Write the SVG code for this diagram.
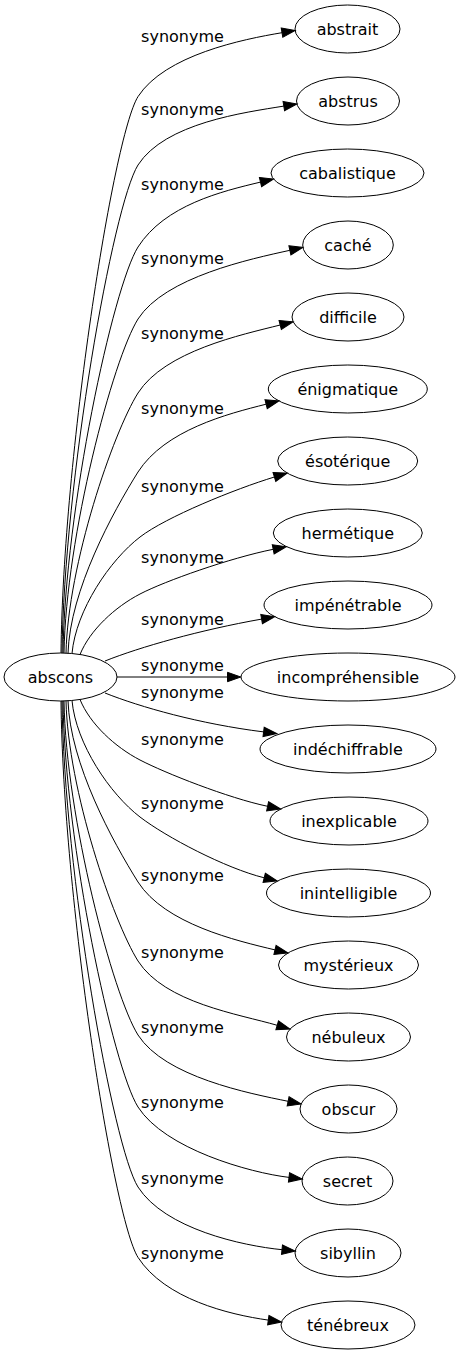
<svg xmlns="http://www.w3.org/2000/svg" width="461" height="1355" viewBox="0 0 461 1355">
<style>
.node ellipse{fill:none;stroke:#000;stroke-width:1}
text{font-family:"DejaVu Sans","Liberation Sans",sans-serif;font-size:16px;fill:#000}
.node text{text-anchor:middle}
.edges path{fill:none;stroke:#000;stroke-width:1;marker-end:url(#arr)}
.lbl text{text-anchor:middle}
</style>
<defs>
<marker id="arr" markerUnits="userSpaceOnUse" markerWidth="16" markerHeight="12" refX="0.5" refY="6" orient="auto" overflow="visible">
<path d="M0.5,1.3 L13.8,6 L0.5,10.7 Z" fill="#000" stroke="#000" stroke-width="1"/>
</marker>
</defs>
<rect width="461" height="1355" fill="#fff"/>
<g class="edges" id="edges">
<path d="M61,653 C63,458 113,136.6 138,96.6 C165,55 242.6,39.3 282,32.7"/>
<path d="M62,653 C64,482 113,205 138,165 C165,123 244.3,112.5 283.8,106.1"/>
<path d="M63,653 C65,510 113,287 138,247 C165,205 221.6,191.4 260.5,182.1"/>
<path d="M64,653 C66,536 113,359 138,319 C165,277 250.8,258.9 289.9,250.3"/>
<path d="M66,653.2 C68,564 113,433 138,393 C165,351 241.4,334.8 280.2,325"/>
<path d="M68,653.5 C70,590 113,512 138,472 C165,430 227.3,413.9 266.1,404.2"/>
<path d="M72,653.5 C76,610 110,560 140,537 C166,517 235,489 274.4,477"/>
<path d="M80,654.5 C90,630 115,607 140,594 C165,581 230,558 273.2,549.3"/>
<path d="M105,661 C140,647 200,630 261.6,619.1"/>
<path d="M117,677 L227.5,677"/>
<path d="M105,693 C140,707 200,724 263.6,731.9"/>
<path d="M80,699.5 C90,724 115,747 140,760 C165,773 228.4,798.1 267.6,806.3"/>
<path d="M72,700.5 C76,744 110,794 140,817 C166,837 225.4,868.2 264.2,877.8"/>
<path d="M68,700.5 C70,764 113,842 138,882 C165,924 236.1,940.6 275,949.9"/>
<path d="M66,700.8 C68,790 113,921 138,961 C165,1003 238.8,1014.1 277.2,1025.3"/>
<path d="M64,701 C66,818 113,995 138,1035 C165,1077 248.9,1093.3 288.1,1101.3"/>
<path d="M63,701 C65,844 113,1067 138,1107 C165,1149 249.3,1172.6 289,1177.4"/>
<path d="M62,701 C64,872 113,1147 138,1187 C165,1229 242.2,1245.7 282,1249.7"/>
<path d="M61,701 C63,896 113,1217.4 138,1257.4 C165,1299 228.7,1314.5 268.3,1320.1"/>
</g>
<g class="lbl" id="edge-labels">
<text x="182.5" y="41.6">synonyme</text>
<text x="182.5" y="115">synonyme</text>
<text x="182.5" y="190">synonyme</text>
<text x="182.5" y="264">synonyme</text>
<text x="182.5" y="338.5">synonyme</text>
<text x="182.5" y="414">synonyme</text>
<text x="182.5" y="492">synonyme</text>
<text x="182.5" y="562.5">synonyme</text>
<text x="182.5" y="625">synonyme</text>
<text x="182.5" y="671">synonyme</text>
<text x="182.5" y="698">synonyme</text>
<text x="182.5" y="745">synonyme</text>
<text x="182.5" y="809">synonyme</text>
<text x="182.5" y="881">synonyme</text>
<text x="182.5" y="957.5">synonyme</text>
<text x="182.5" y="1033">synonyme</text>
<text x="182.5" y="1108">synonyme</text>
<text x="182.5" y="1184">synonyme</text>
<text x="182.5" y="1258.5">synonyme</text>
</g>
<g class="node" id="n-abscons"><ellipse cx="60.5" cy="677" rx="56.5" ry="24"/><text x="60.5" y="682.5">abscons</text></g>
<g class="node" id="n-abstrait"><ellipse cx="347.5" cy="29" rx="52.5" ry="24"/><text x="347.5" y="34.5">abstrait</text></g>
<g class="node" id="n-abstrus"><ellipse cx="348" cy="101" rx="51.5" ry="24"/><text x="348" y="106.5">abstrus</text></g>
<g class="node" id="n-cabalistique"><ellipse cx="347.5" cy="173" rx="76.5" ry="24"/><text x="347.5" y="178.5">cabalistique</text></g>
<g class="node" id="n-cache"><ellipse cx="348" cy="245" rx="45.3" ry="24"/><text x="348" y="250.5">caché</text></g>
<g class="node" id="n-difficile"><ellipse cx="348" cy="317" rx="56" ry="24"/><text x="348" y="322.5">difficile</text></g>
<g class="node" id="n-enigmatique"><ellipse cx="347.8" cy="389" rx="79.5" ry="24"/><text x="347.8" y="394.5">énigmatique</text></g>
<g class="node" id="n-esoterique"><ellipse cx="347.7" cy="461" rx="70" ry="24"/><text x="347.7" y="466.5">ésotérique</text></g>
<g class="node" id="n-hermetique"><ellipse cx="347.8" cy="533" rx="74.5" ry="24"/><text x="347.8" y="538.5">hermétique</text></g>
<g class="node" id="n-impenetrable"><ellipse cx="348" cy="605" rx="84" ry="24"/><text x="348" y="610.5">impénétrable</text></g>
<g class="node" id="n-incomprehensible"><ellipse cx="348" cy="677" rx="107" ry="24"/><text x="348" y="682.5">incompréhensible</text></g>
<g class="node" id="n-indechiffrable"><ellipse cx="348" cy="749" rx="88" ry="24"/><text x="348" y="754.5">indéchiffrable</text></g>
<g class="node" id="n-inexplicable"><ellipse cx="349" cy="821" rx="79" ry="24"/><text x="349" y="826.5">inexplicable</text></g>
<g class="node" id="n-inintelligible"><ellipse cx="348.5" cy="893" rx="82" ry="24"/><text x="348.5" y="898.5">inintelligible</text></g>
<g class="node" id="n-mysterieux"><ellipse cx="348.5" cy="965" rx="70" ry="24"/><text x="348.5" y="970.5">mystérieux</text></g>
<g class="node" id="n-nebuleux"><ellipse cx="348.5" cy="1037" rx="62" ry="24"/><text x="348.5" y="1042.5">nébuleux</text></g>
<g class="node" id="n-obscur"><ellipse cx="348.5" cy="1109" rx="48.5" ry="24"/><text x="348.5" y="1114.5">obscur</text></g>
<g class="node" id="n-secret"><ellipse cx="347.5" cy="1181" rx="45.5" ry="24"/><text x="347.5" y="1186.5">secret</text></g>
<g class="node" id="n-sibyllin"><ellipse cx="348" cy="1253" rx="53" ry="24"/><text x="348" y="1258.5">sibyllin</text></g>
<g class="node" id="n-tenebreux"><ellipse cx="348" cy="1325" rx="67" ry="24"/><text x="348" y="1330.5">ténébreux</text></g>
</svg>
